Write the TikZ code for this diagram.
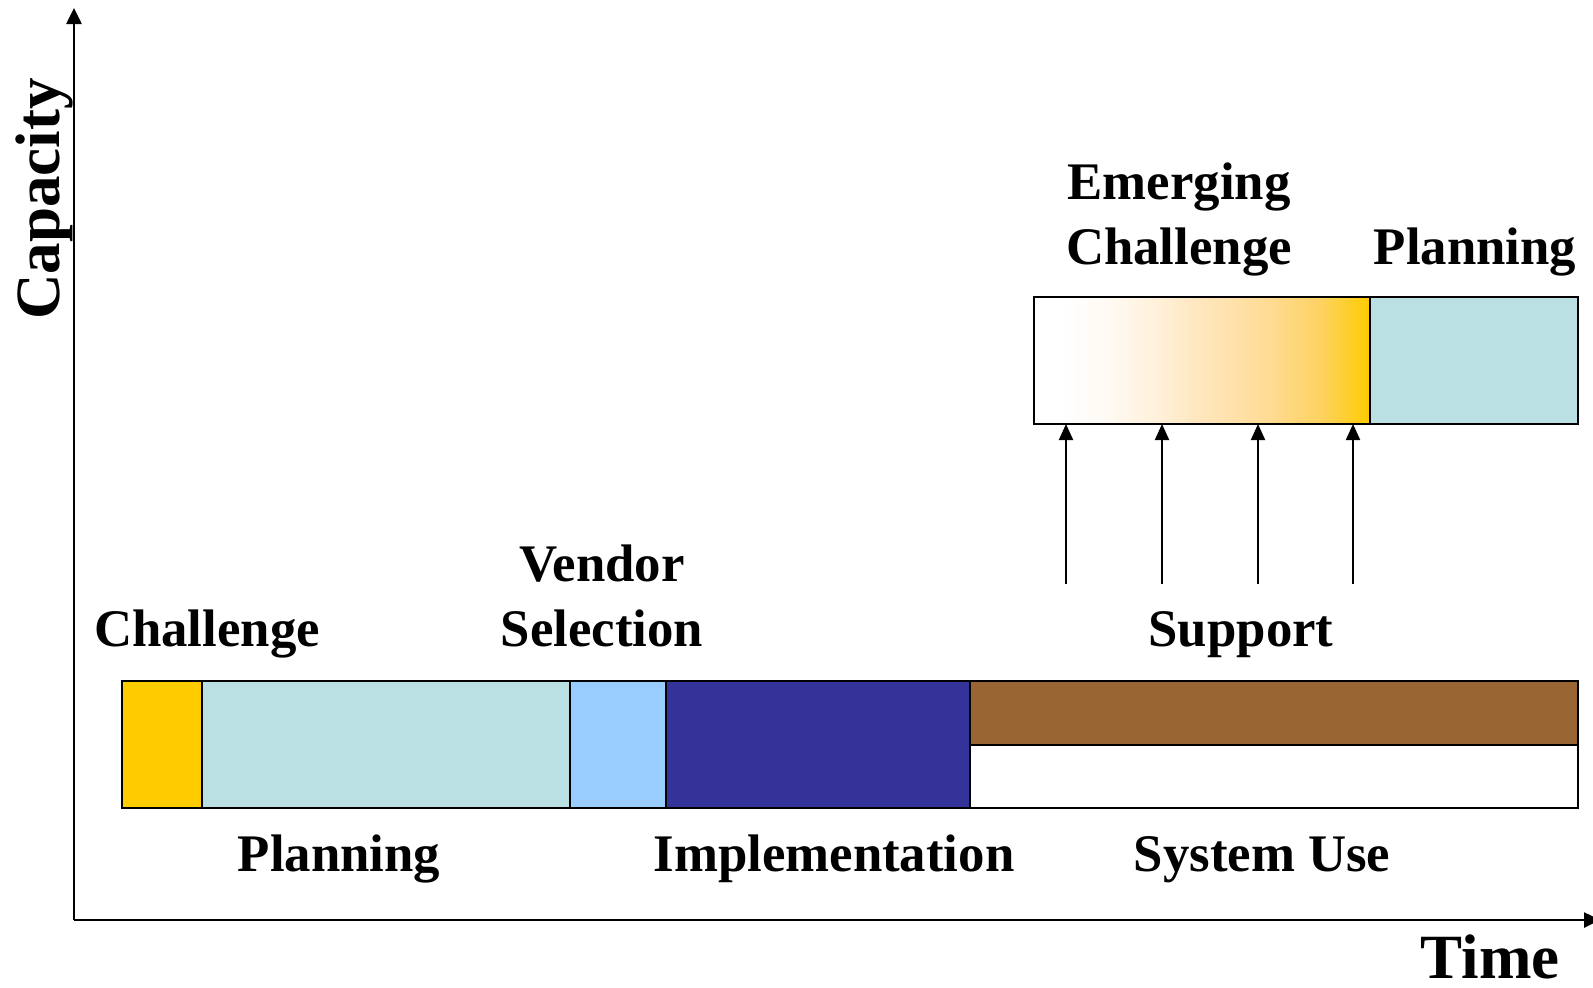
\documentclass[tikz,border=0pt]{standalone}
\usepackage{fontspec}
\setmainfont{Liberation Serif}
\usetikzlibrary{arrows.meta}
\definecolor{chalY}{HTML}{FFCC00}
\definecolor{planT}{HTML}{BBE0E3}
\definecolor{vendB}{HTML}{99CCFF}
\definecolor{implB}{HTML}{333399}
\definecolor{suppBr}{HTML}{996633}
\definecolor{gA}{HTML}{FFFAF3}
\definecolor{gB}{HTML}{FFF1DC}
\definecolor{gC}{HTML}{FFE6BC}
\definecolor{gD}{HTML}{FFDB94}
\definecolor{gE}{HTML}{FED25E}
% the filled path spans the middle 25bp--75bp of the shading
\pgfdeclarehorizontalshading{emerge}{100bp}{color(0bp)=(white); color(25bp)=(white); color(29bp)=(white); color(36bp)=(gA); color(43bp)=(gB); color(50bp)=(gC); color(60bp)=(gD); color(68bp)=(gE); color(75bp)=(chalY); color(100bp)=(chalY)}
\tikzset{
  lbl/.style={font=\fontsize{26.4}{32.5}\selectfont\bfseries, inner sep=0pt, anchor=base, align=center},
  axlbl/.style={font=\fontsize{31.5}{36}\selectfont\bfseries, inner sep=0pt, anchor=base},
  seg/.style={draw=black, line width=1pt},
  axis/.style={line width=1.3pt, -{Triangle[width=7.5pt,length=8pt]}},
  feed/.style={line width=1pt, -{Triangle[width=7pt,length=8pt]}}
}
\begin{document}
\begin{tikzpicture}[x=0.5pt,y=-0.5pt]
\useasboundingbox (0,0) rectangle (1593,987);
% axes
\coordinate (O) at (74,920);
\coordinate (Ytop) at (74,8);
\coordinate (Xend) at (1600,920);
\draw[axis] (O) -- (Ytop);
\draw[axis] (O) -- (Xend);
\node[axlbl, rotate=90] (cap) at (59,199) {Capacity};
\node[axlbl] (time) at (1490,978) {Time};

% main timeline bar
\filldraw[seg, fill=chalY] (122,681) rectangle (202,808);
\filldraw[seg, fill=planT] (202,681) rectangle (570,808);
\filldraw[seg, fill=vendB] (570,681) rectangle (665.5,808);
\filldraw[seg, fill=implB] (665.5,681) rectangle (970,808);
\filldraw[seg, fill=suppBr] (970,681) rectangle (1578,745);
\filldraw[seg, fill=white] (970,745) rectangle (1578,808);
\draw[line width=1.2pt] (122,681) rectangle (1578,808);

% next cycle
\shade[shading=emerge] (1034,297) rectangle (1369.5,424);
\draw[seg] (1034,297) rectangle (1369.5,424);
\filldraw[seg, fill=planT] (1369.5,297) rectangle (1578,424);

% support feeding the emerging challenge
\foreach \x [count=\i] in {1066,1162,1258,1353}{
  \coordinate (s\i) at (\x,584);
  \coordinate (t\i) at (\x,424);
  \draw[feed] (s\i) -- (t\i);
}

% labels (base anchor of a two-line node sits on its last line)
\node[lbl] (l1) at (207,646) {Challenge};
\node[lbl] (l2) at (602,646) {Vendor\\Selection};
\node[lbl] (l3) at (339,871) {Planning};
\node[lbl] (l4) at (834,871) {Implementation};
\node[lbl] (l5) at (1262,871) {System Use};
\node[lbl] (l6) at (1241,646) {Support};
\node[lbl] (l7) at (1179,264) {Emerging\\Challenge};
\node[lbl] (l8) at (1475,264) {Planning};
\end{tikzpicture}
\end{document}
